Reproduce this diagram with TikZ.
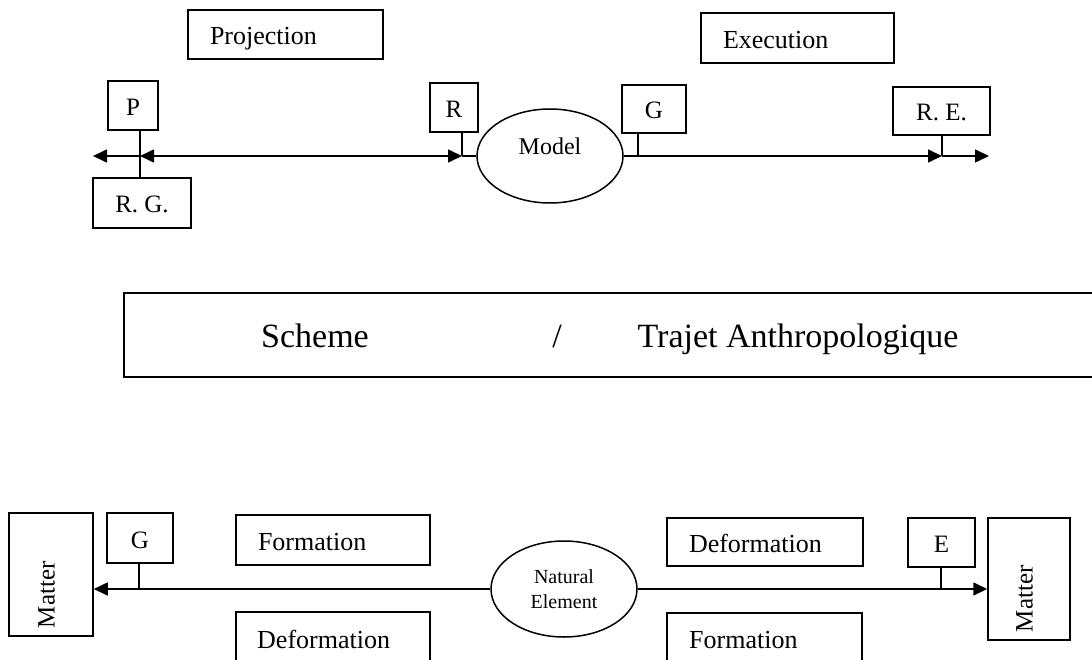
\documentclass[tikz,border=0pt]{standalone}
\usepackage{fontspec}
\setmainfont{Liberation Serif}
\usetikzlibrary{arrows.meta,shapes.geometric}
\begin{document}
\begin{tikzpicture}[x=1pt,y=-1pt,
  every node/.style={inner sep=0pt},
  frame/.style={draw=black, line width=1.5pt},
  wordbox/.style={frame, rectangle, font=\fontsize{26}{30}\selectfont,
    text height=21pt, text depth=0pt, inner xsep=22pt, align=left},
  letterbox/.style={frame, rectangle, font=\fontsize{25}{30}\selectfont,
    text height=20pt, text depth=0pt, align=center},
  wordtext/.style={font=\fontsize{26}{30}\selectfont, text height=17pt,
    text depth=0pt, anchor=west},
  mattbox/.style={frame, rectangle, rotate=90, font=\fontsize{25}{30}\selectfont,
    text height=17pt, text depth=10pt, inner xsep=8pt, align=left},
  bigtext/.style={font=\fontsize{34}{40}\selectfont, text height=23pt, text depth=0pt},
  oval/.style={frame, ellipse},
  wire/.style={line width=1.6pt},
  tipend/.style={-{Triangle[length=14pt,width=13pt]}},
  tipboth/.style={{Triangle[length=14pt,width=13pt]}-{Triangle[length=14pt,width=13pt]}},
]
\useasboundingbox (0,0) rectangle (1092,660);

% ---------- upper diagram: Projection / Execution ----------
\node[wordbox, minimum width=195pt, minimum height=49pt, text width=151pt]
  (proj) at (285.5,34.5) {Projection};
\node[wordbox, minimum width=193pt, minimum height=50pt, text width=149pt]
  (exec) at (797.5,38) {Execution};

\node[letterbox, minimum width=50pt, minimum height=49pt] (p)  at (133,105.5) {P};
\node[letterbox, minimum width=48pt, minimum height=49pt] (r)  at (454,107.5) {R};
\node[letterbox, minimum width=64pt, minimum height=48pt] (g)  at (654,109) {G};
\node[letterbox, minimum width=97pt, minimum height=48pt] (re) at (941.5,111) {R.~E.};
\node[letterbox, minimum width=98pt, minimum height=50pt] (rg) at (142,203) {R.~G.};

\node[oval, minimum width=146pt, minimum height=94pt,
  font=\fontsize{24}{28}\selectfont, text height=16pt, text depth=18pt]
  (model) at (550,156) {Model};

\coordinate (jP)   at (140,156);
\coordinate (jR)   at (462,156);
\coordinate (jG)   at (638,156);
\coordinate (jRE)  at (942,156);
\coordinate (endL) at (93,156);
\coordinate (endR) at (989,156);

\draw[wire] (p.south -| jP) -- (rg.north -| jP);
\draw[wire, tipend]  (jP) -- (endL);
\draw[wire, tipboth] (jP) -- (jR);
\draw[wire] (r.south -| jR) -- (jR);
\draw[wire] (jR) -- (model.west);
\draw[wire, tipend] (model.east) -- (jRE);
\draw[wire] (g.south -| jG) -- (jG);
\draw[wire] (re.south -| jRE) -- (jRE);
\draw[wire, tipend] (jRE) -- (endR);

% ---------- middle band ----------
\draw[frame] (1092,293) -| (124,377) -- (1092,377);
\node[bigtext] (scheme) at (315,336) {Scheme};
\node[bigtext] (slash)  at (557,336) {/};
\node[bigtext] (trajet) at (798,336) {Trajet Anthropologique};

% ---------- lower diagram: Natural Element ----------
\node[mattbox, minimum width=123pt, minimum height=84pt, text width=107pt]
  (matterL) at (51,574.5) {Matter};
\node[mattbox, minimum width=122pt, minimum height=82pt, text width=106pt]
  (matterR) at (1029,579) {Matter};

\node[letterbox, minimum width=66pt, minimum height=50pt] (gb) at (140,538) {G};
\node[letterbox, minimum width=67pt, minimum height=49pt] (e)  at (941.5,542.5) {E};

\node[wordbox, minimum width=194pt, minimum height=50pt, text width=150pt]
  (formL) at (333,540) {Formation};
\node[wordbox, minimum width=196pt, minimum height=48pt, text width=152pt]
  (defR) at (765,542) {Deformation};

% boxes running off the lower edge
\draw[frame] (236,660) |- (430,612) -- (430,660);
\node[wordtext] (defL) at (257,640) {Deformation};
\draw[frame] (667,660) |- (862,613) -- (862,660);
\node[wordtext] (formR) at (689,640) {Formation};

\node[oval, minimum width=146pt, minimum height=96pt, align=center,
  font=\fontsize{20}{25}\selectfont] (nat) at (564,589) {Natural\\Element};

\coordinate (jGb) at (139,589);
\coordinate (jE)  at (941,589);

\draw[wire, tipend] (nat.west) -- (jGb -| matterL.south);
\draw[wire] (gb.south -| jGb) -- (jGb);
\draw[wire, tipend] (nat.east) -- (jE -| matterR.north);
\draw[wire] (e.south -| jE) -- (jE);
\end{tikzpicture}
\end{document}
